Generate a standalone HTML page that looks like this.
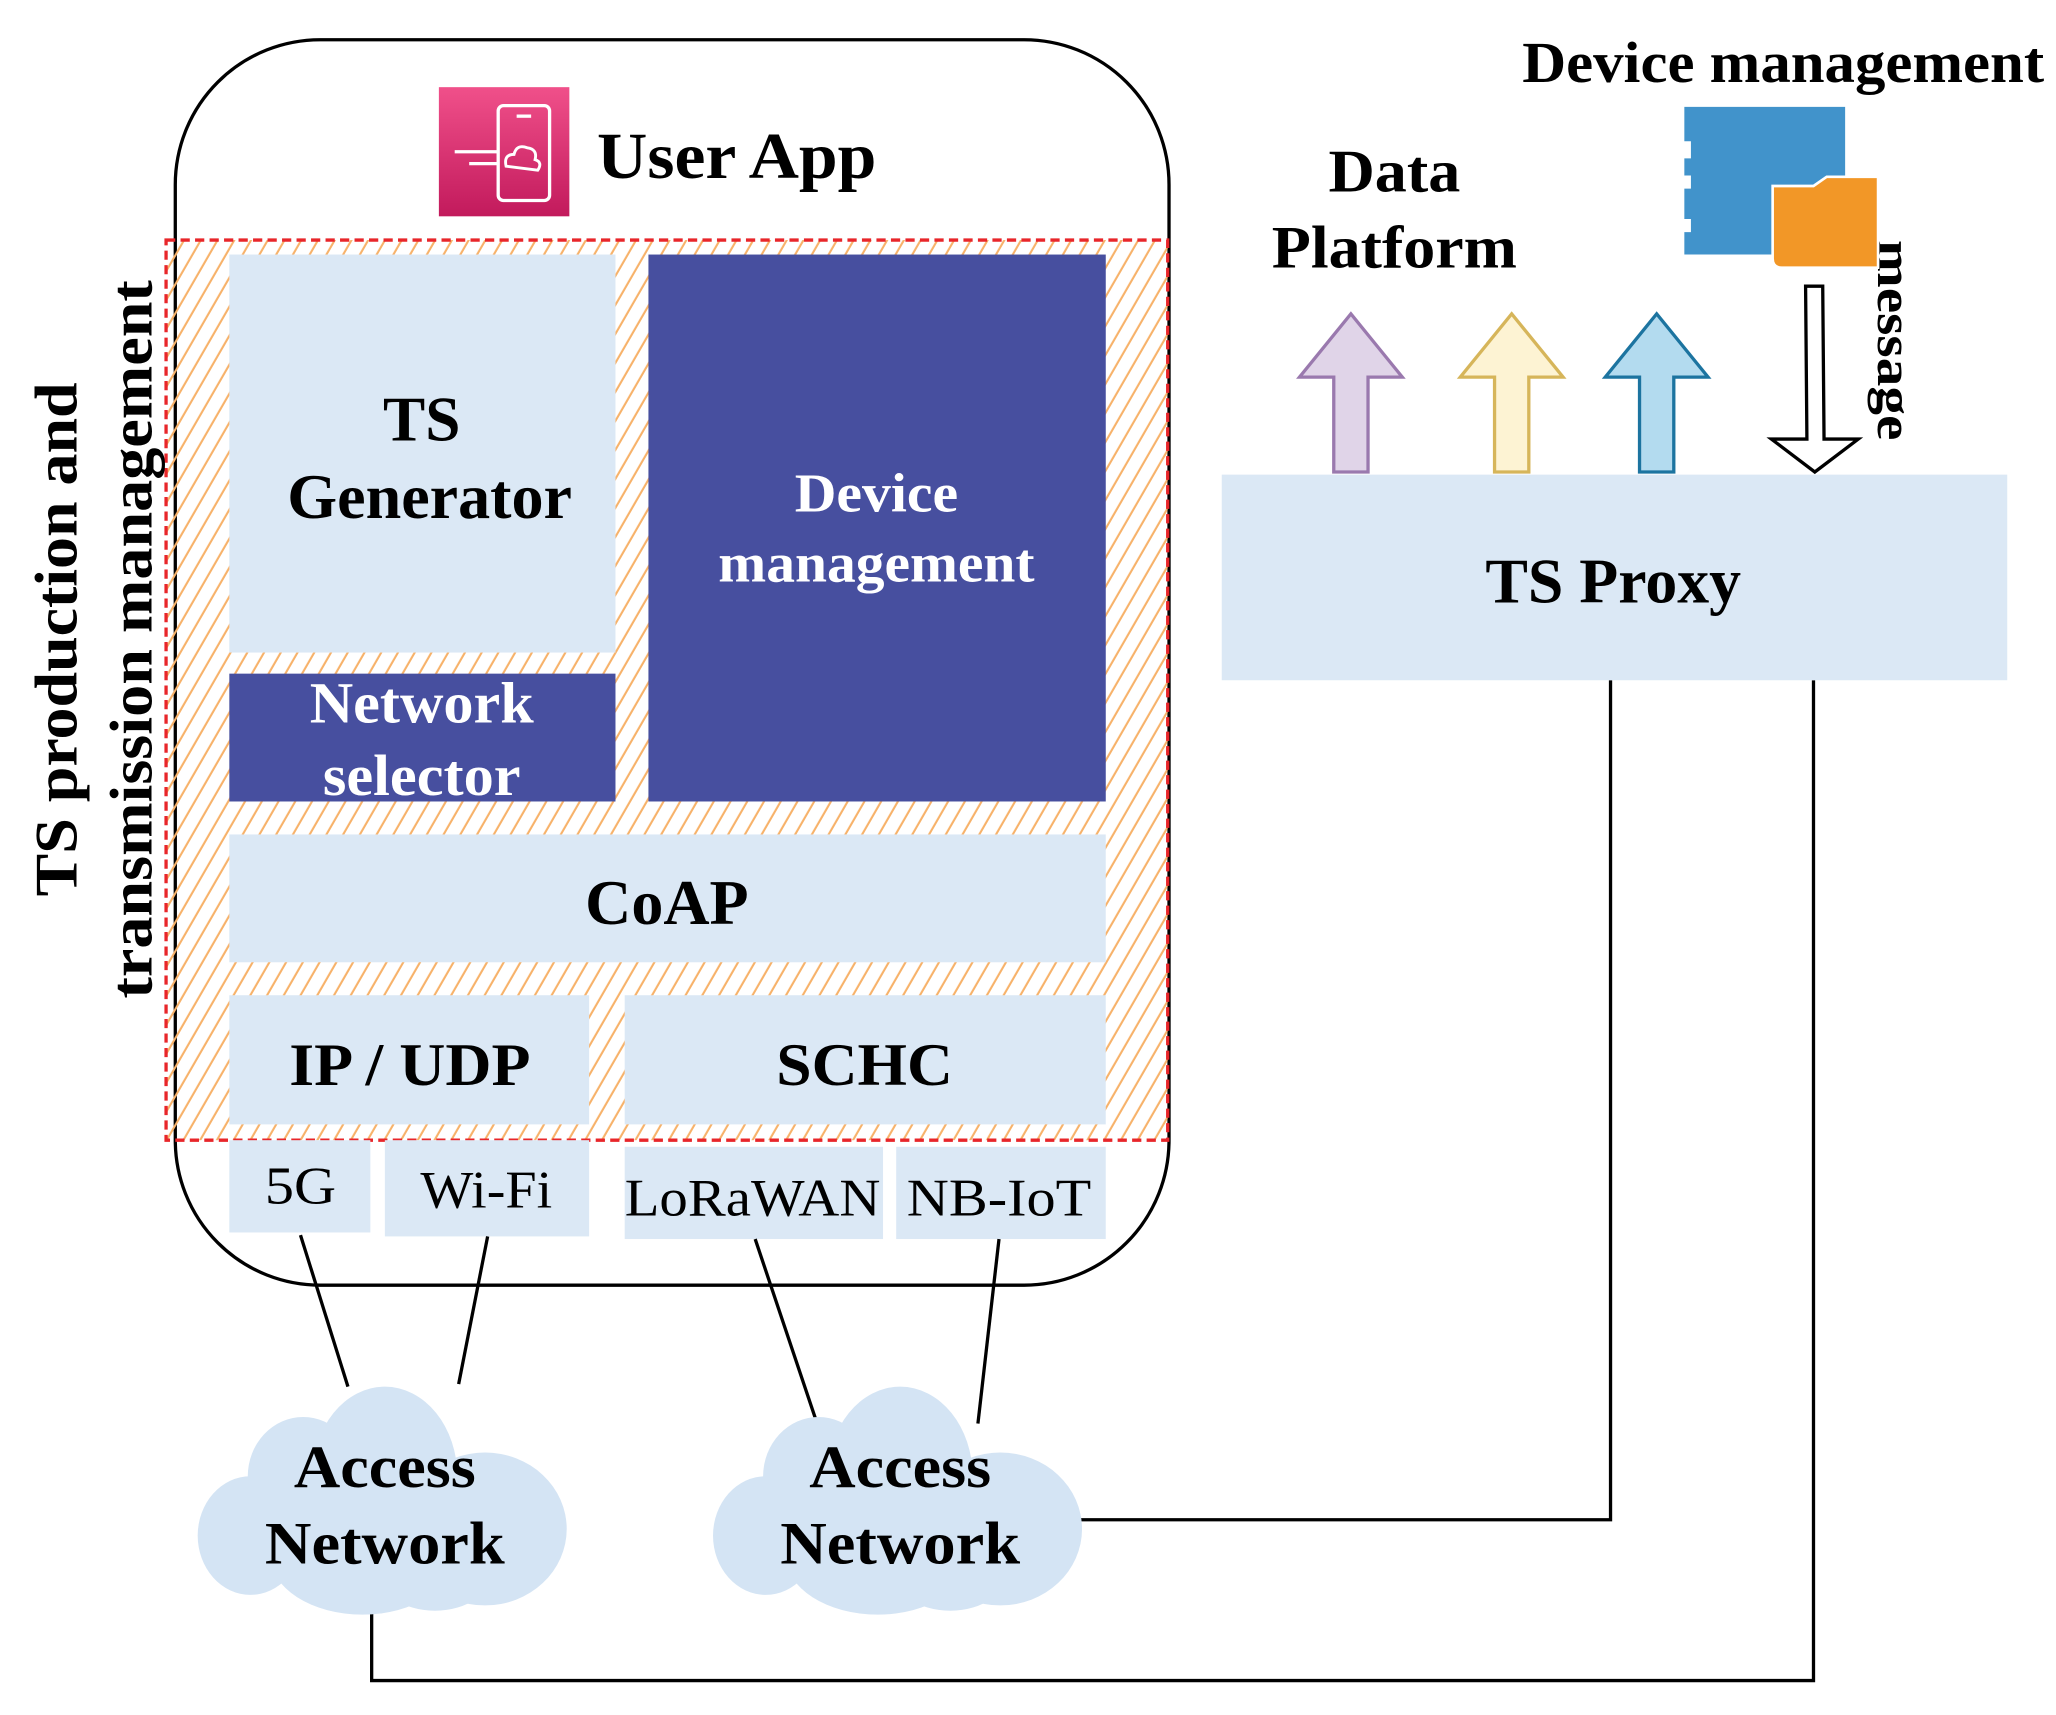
<!DOCTYPE html>
<html><head><meta charset="utf-8"><style>
html,body{margin:0;padding:0;background:#fff;width:2056px;height:1715px;overflow:hidden}
svg{display:block}
text{font-family:"Liberation Serif",serif;font-weight:bold;fill:#000}
</style></head><body>
<svg width="2056" height="1715" viewBox="0 0 1560 1301" xmlns="http://www.w3.org/2000/svg">
<defs>
<pattern id="h" width="11" height="12" patternUnits="userSpaceOnUse" patternTransform="rotate(30)">
<line x1="3" y1="0" x2="3" y2="12" stroke="#f7b26a" stroke-width="1.6"/>
</pattern>
<linearGradient id="pg" x1="0" y1="0" x2="0" y2="1"><stop offset="0" stop-color="#f0508a"/><stop offset="1" stop-color="#c21a5c"/></linearGradient>
</defs>
<rect x="133" y="30" width="754" height="945" rx="110" ry="110" fill="#fff" stroke="#000" stroke-width="2.5"/>
<rect x="126" y="182" width="760" height="683" fill="url(#h)"/>
<rect x="126" y="182" width="760" height="683" fill="none" stroke="#e8262a" stroke-width="2.5" stroke-dasharray="7,4"/>
<rect x="333" y="66" width="99" height="98" fill="url(#pg)"/>
<rect x="378" y="80" width="39" height="72" rx="4" fill="none" stroke="#fff" stroke-width="2.5"/>
<line x1="392" y1="88" x2="403" y2="88" stroke="#fff" stroke-width="2.5"/>
<line x1="345" y1="115" x2="378" y2="115" stroke="#fff" stroke-width="2.5"/>
<line x1="356" y1="124" x2="378" y2="124" stroke="#fff" stroke-width="2.5"/>
<path d="M384 126 q-2 -9 6 -9 q2 -8 10 -5 q8 1 6 9 q6 2 2 8 z" fill="none" stroke="#fff" stroke-width="2.2"/>
<text x="453" y="135" font-size="50" textLength="212" lengthAdjust="spacingAndGlyphs">User App</text>
<rect x="174" y="193" width="293" height="302" fill="#dbe8f5"/>
<text x="320" y="334" font-size="48" text-anchor="middle">TS</text>
<text x="326" y="393" font-size="48" text-anchor="middle" textLength="216" lengthAdjust="spacingAndGlyphs">Generator</text>
<rect x="174" y="511" width="293" height="97" fill="#474f9f"/>
<text x="320" y="548" font-size="44" text-anchor="middle" style="fill:#fff" textLength="170" lengthAdjust="spacingAndGlyphs">Network</text>
<text x="320" y="603" font-size="44" text-anchor="middle" style="fill:#fff" textLength="150" lengthAdjust="spacingAndGlyphs">selector</text>
<rect x="492" y="193" width="347" height="415" fill="#474f9f"/>
<text x="665" y="388" font-size="42" text-anchor="middle" style="fill:#fff" textLength="124" lengthAdjust="spacingAndGlyphs">Device</text>
<text x="665" y="441" font-size="42" text-anchor="middle" style="fill:#fff" textLength="240" lengthAdjust="spacingAndGlyphs">management</text>
<rect x="174" y="633" width="665" height="97" fill="#dbe8f5"/>
<text x="506" y="701" font-size="48" text-anchor="middle" textLength="124" lengthAdjust="spacingAndGlyphs">CoAP</text>
<rect x="174" y="755" width="273" height="98" fill="#dbe8f5"/>
<text x="311" y="823" font-size="46" text-anchor="middle" textLength="183" lengthAdjust="spacingAndGlyphs">IP / UDP</text>
<rect x="474" y="755" width="365" height="98" fill="#dbe8f5"/>
<text x="656" y="823" font-size="46" text-anchor="middle" textLength="134" lengthAdjust="spacingAndGlyphs">SCHC</text>
<rect x="174" y="865" width="107" height="70" fill="#dbe8f5"/>
<text x="228" y="913" font-size="40" style="font-weight:normal" text-anchor="middle" textLength="54" lengthAdjust="spacingAndGlyphs">5G</text>
<rect x="292" y="865" width="155" height="73" fill="#dbe8f5"/>
<text x="369" y="916" font-size="40" style="font-weight:normal" text-anchor="middle" textLength="100" lengthAdjust="spacingAndGlyphs">Wi-Fi</text>
<rect x="474" y="870" width="196" height="70" fill="#dbe8f5"/>
<text x="571" y="922" font-size="40" style="font-weight:normal" text-anchor="middle" textLength="194" lengthAdjust="spacingAndGlyphs">LoRaWAN</text>
<rect x="680" y="870" width="159" height="70" fill="#dbe8f5"/>
<text x="758" y="922" font-size="40" style="font-weight:normal" text-anchor="middle" textLength="140" lengthAdjust="spacingAndGlyphs">NB-IoT</text>
<text transform="translate(58,485) rotate(-90)" font-size="46" text-anchor="middle" textLength="390" lengthAdjust="spacingAndGlyphs">TS production and</text>
<text transform="translate(115,485) rotate(-90)" font-size="46" text-anchor="middle" textLength="545" lengthAdjust="spacingAndGlyphs">transmission management</text>
<g stroke="#000" stroke-width="2.5" fill="none">
<line x1="228" y1="937" x2="264" y2="1052"/>
<line x1="370" y1="938" x2="348" y2="1050"/>
<line x1="573" y1="940" x2="620" y2="1080"/>
<line x1="758" y1="940" x2="742" y2="1080"/>
<polyline points="815,1153 1222,1153 1222,516"/>
<polyline points="282,1222 282,1275 1376,1275 1376,516"/>
</g>
<g fill="#d4e4f4">
<g>
<ellipse cx="292" cy="1120" rx="55" ry="68"/>
<ellipse cx="230" cy="1120" rx="42" ry="45"/>
<ellipse cx="190" cy="1165" rx="40" ry="45"/>
<ellipse cx="368" cy="1160" rx="62" ry="58"/>
<ellipse cx="275" cy="1180" rx="70" ry="45"/>
<ellipse cx="330" cy="1190" rx="45" ry="32"/>
</g>
<g transform="translate(391,0)">
<ellipse cx="292" cy="1120" rx="55" ry="68"/>
<ellipse cx="230" cy="1120" rx="42" ry="45"/>
<ellipse cx="190" cy="1165" rx="40" ry="45"/>
<ellipse cx="368" cy="1160" rx="62" ry="58"/>
<ellipse cx="275" cy="1180" rx="70" ry="45"/>
<ellipse cx="330" cy="1190" rx="45" ry="32"/>
</g>
</g>
<text x="292" y="1128" font-size="46" text-anchor="middle" textLength="138" lengthAdjust="spacingAndGlyphs">Access</text>
<text x="292" y="1186" font-size="46" text-anchor="middle" textLength="182" lengthAdjust="spacingAndGlyphs">Network</text>
<text x="683" y="1128" font-size="46" text-anchor="middle" textLength="138" lengthAdjust="spacingAndGlyphs">Access</text>
<text x="683" y="1186" font-size="46" text-anchor="middle" textLength="182" lengthAdjust="spacingAndGlyphs">Network</text>
<rect x="927" y="360" width="596" height="156" fill="#dbe8f5"/>
<text x="1224" y="457" font-size="48" text-anchor="middle" textLength="194" lengthAdjust="spacingAndGlyphs">TS Proxy</text>
<polygon points="1012,358 1012,286 986,286 1025,238 1064,286 1038,286 1038,358" fill="#e0d4e8" stroke="#9a79ae" stroke-width="2.5"/>
<polygon points="1134,358 1134,286 1108,286 1147,238 1186,286 1160,286 1160,358" fill="#fdf3d3" stroke="#d6b55a" stroke-width="2.5"/>
<polygon points="1244,358 1244,286 1218,286 1257,238 1296,286 1270,286 1270,358" fill="#b3dbef" stroke="#1c74a0" stroke-width="2.5"/>
<polygon points="1370,217 1383,217 1384,333 1410,333 1377,358 1344,333 1371,333" fill="#fff" stroke="#000" stroke-width="2.5"/>
<text transform="translate(1425,258) rotate(90)" font-size="38" text-anchor="middle" textLength="152" lengthAdjust="spacingAndGlyphs">message</text>
<text x="1058" y="145" font-size="46" text-anchor="middle" textLength="100" lengthAdjust="spacingAndGlyphs">Data</text>
<text x="1058" y="203" font-size="46" text-anchor="middle" textLength="186" lengthAdjust="spacingAndGlyphs">Platform</text>
<text x="1155" y="62" font-size="44" textLength="396" lengthAdjust="spacingAndGlyphs">Device management</text>
<path d="M1278 81 H1400 V148 H1396 V193 H1278 V176 H1283 V166 H1278 V143 H1283 V133 H1278 V120 H1283 V107 H1278 Z" fill="#4193cb"/>
<path d="M1345 141 H1376 L1386 134 H1425 V203 H1352 Q1345 203 1345 196 Z" fill="#f29727" stroke="#fff" stroke-width="2"/>
</svg>
</body></html>
